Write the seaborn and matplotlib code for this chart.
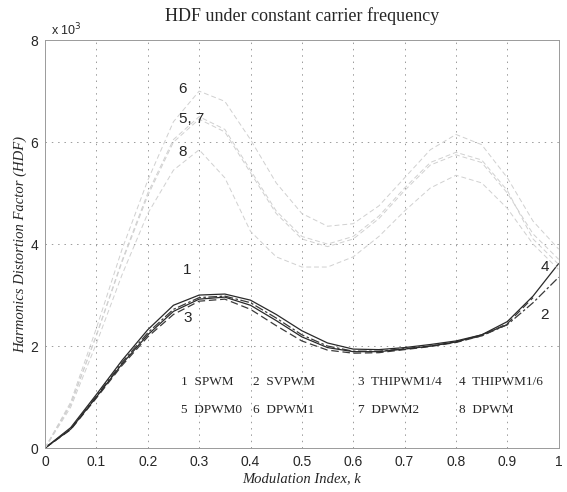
import numpy as np
import pandas as pd
import seaborn as sns
import matplotlib
matplotlib.use("Agg")
import matplotlib.pyplot as plt

# Modulation index grid (step 0.05)
k = [0.00, 0.05, 0.10, 0.15, 0.20, 0.25, 0.30, 0.35, 0.40, 0.45, 0.50,
     0.55, 0.60, 0.65, 0.70, 0.75, 0.80, 0.85, 0.90, 0.95, 1.00]

# HDF values (x 10^3)
spwm = [0, 0.40, 1.05, 1.72, 2.32, 2.80, 3.00, 3.02, 2.90, 2.62, 2.30,
        2.06, 1.94, 1.93, 1.97, 2.03, 2.10, 2.22, 2.42]
svpwm = [0, 0.38, 1.02, 1.68, 2.26, 2.72, 2.95, 2.98, 2.85, 2.55, 2.22,
         2.00, 1.90, 1.90, 1.95, 2.00, 2.08, 2.20, 2.42, 2.85, 3.35]
thipwm14 = [0, 0.36, 0.98, 1.62, 2.18, 2.62, 2.88, 2.92, 2.72, 2.40, 2.10,
            1.92, 1.86, 1.87, 1.93, 1.99, 2.07, 2.20, 2.44, 2.95]
thipwm16 = [0, 0.37, 1.00, 1.65, 2.22, 2.68, 2.92, 2.96, 2.80, 2.50, 2.18,
            1.97, 1.89, 1.89, 1.94, 2.00, 2.08, 2.22, 2.48, 2.98, 3.62]
# DPWM curves are barely visible in the scan, values estimated from fragments
dpwm0 = [0, 0.85, 2.20, 3.65, 4.95, 6.00, 6.45, 6.20, 5.40, 4.60, 4.10,
         3.95, 4.10, 4.50, 5.05, 5.55, 5.75, 5.60, 5.00, 4.20, 3.70]
dpwm1 = [0, 0.90, 2.35, 3.90, 5.25, 6.40, 7.00, 6.80, 6.05, 5.20, 4.60,
         4.35, 4.40, 4.75, 5.30, 5.85, 6.15, 5.95, 5.30, 4.45, 3.90]
dpwm2 = [0, 0.86, 2.22, 3.68, 5.00, 6.05, 6.50, 6.25, 5.45, 4.65, 4.15,
         4.00, 4.15, 4.55, 5.10, 5.60, 5.80, 5.65, 5.05, 4.10, 3.60]
dpwm = [0, 0.80, 2.05, 3.40, 4.60, 5.45, 5.85, 5.30, 4.25, 3.75, 3.55,
        3.55, 3.75, 4.15, 4.65, 5.10, 5.35, 5.20, 4.70, 4.00, 3.50]

curve_ids = ["1", "2", "3", "4", "5", "6", "7", "8"]
curve_names = ["SPWM", "SVPWM", "THIPWM1/4", "THIPWM1/6",
               "DPWM0", "DPWM1", "DPWM2", "DPWM"]
curve_vals = [spwm, svpwm, thipwm14, thipwm16, dpwm0, dpwm1, dpwm2, dpwm]

x_ticks = [0, 0.1, 0.2, 0.3, 0.4, 0.5, 0.6, 0.7, 0.8, 0.9, 1]
x_tick_labels = ["0", "0.1", "0.2", "0.3", "0.4", "0.5", "0.6", "0.7", "0.8", "0.9", "1"]
y_ticks = [0, 2, 4, 6, 8]

sns.set_theme(style="white")
plt.rcParams["font.family"] = ["Liberation Sans", "DejaVu Sans"]

fig = plt.figure(figsize=(5.67, 4.92), dpi=100)
ax = fig.add_axes([0.0794, 0.0894, 0.906, 0.829])

styles = ["-", (0, (7, 2, 2, 2)), (0, (6, 3)), "-",
          (0, (5, 3)), (0, (5, 3)), (0, (5, 3)), (0, (5, 3))]
colors = ["#2a2a2a", "#3a3a3a", "#3a3a3a", "#2a2a2a",
          "#d0d0d0", "#d0d0d0", "#d0d0d0", "#d0d0d0"]
widths = [0.9, 0.9, 0.9, 0.9, 0.7, 0.7, 0.7, 0.7]

for vals, ls, c, lw in zip(curve_vals, styles, colors, widths):
    df = pd.DataFrame({"k": k[:len(vals)], "hdf": vals})
    sns.lineplot(data=df, x="k", y="hdf", ax=ax, color=c,
                 linestyle=ls, linewidth=lw)

# dotted grid like the MATLAB original
for xv in x_ticks[1:-1]:
    ax.axvline(xv, color="#9a9a9a", linestyle=(0, (1.5, 5)), linewidth=0.7, zorder=0)
for yv in y_ticks[1:-1]:
    ax.axhline(yv, color="#9a9a9a", linestyle=(0, (1.5, 5)), linewidth=0.7, zorder=0)

ax.set_xlim(0, 1)
ax.set_ylim(0, 8)
ax.set_xticks(x_ticks)
ax.set_xticklabels(x_tick_labels)
ax.set_yticks(y_ticks)
ax.tick_params(labelsize=10, length=0, pad=5)
for s in ax.spines.values():
    s.set_color("#9a9a9a")
    s.set_linewidth(0.7)

serif = ["Liberation Serif", "DejaVu Serif"]
ax.set_title("HDF under constant carrier frequency", fontsize=13,
             family=serif, pad=14)
ax.set_xlabel("Modulation Index, k", fontsize=10.5, family=serif,
              style="italic", labelpad=2)
ax.set_ylabel("Harmonics Distortion Factor (HDF)", fontsize=10.5,
              family=serif, style="italic", labelpad=2)
ax.text(0.012, 1.005, r"x 10$^3$", transform=ax.transAxes, fontsize=9,
        va="bottom", ha="left")

# curve labels
ax.text(0.26, 7.05, "6", fontsize=11, va="center")
ax.text(0.26, 6.45, "5, 7", fontsize=11, va="center")
ax.text(0.26, 5.8, "8", fontsize=11, va="center")
ax.text(0.268, 3.5, "1", fontsize=11, va="center")
ax.text(0.27, 2.55, "3", fontsize=11, va="center")
ax.text(0.965, 3.55, "4", fontsize=11, va="center")
ax.text(0.965, 2.6, "2", fontsize=11, va="center")

# method key
key_x = [0.265, 0.404, 0.61, 0.805]
key_y = [1.3, 0.74]
for i, (cid, name) in enumerate(zip(curve_ids, curve_names)):
    ax.text(key_x[i % 4], key_y[i // 4], f"{cid}  {name}", fontsize=9.5,
            family=serif, va="center")

fig.savefig("out.png", dpi=100)
